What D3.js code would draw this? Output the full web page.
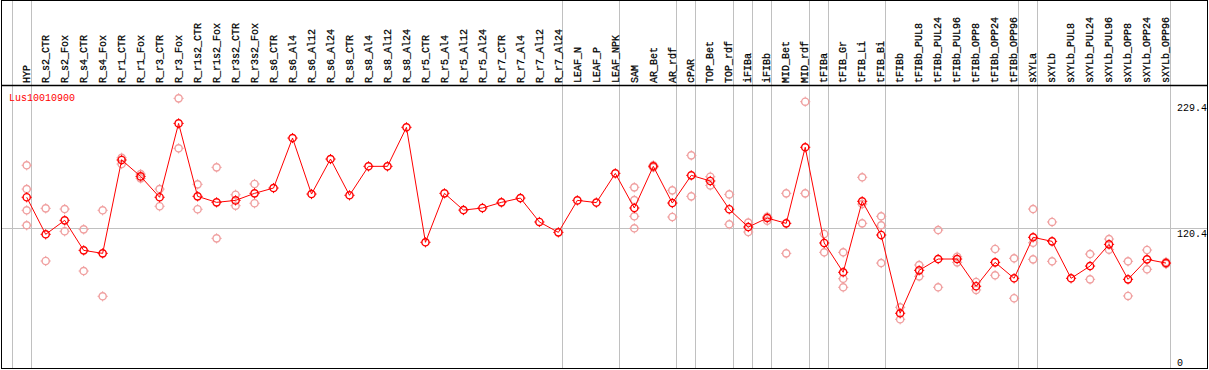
<!DOCTYPE html>
<html>
<head>
<meta charset="utf-8">
<script src="https://cdn.jsdelivr.net/npm/d3@7"></script>
<style>
  html, body { margin: 0; padding: 0; background: #fff; }
  svg { display: block; }
  text { font-family: "Liberation Mono", "DejaVu Sans Mono", monospace; font-size: 10px; }
</style>
</head>
<body>
<svg id="chart" width="1209" height="370"></svg>
<script>
// 列ラベル
const samples = [
    "HYP",
    "R_s2_CTR", "R_s2_Fox", "R_s4_CTR", "R_s4_Fox",
    "R_r1_CTR", "R_r1_Fox", "R_r3_CTR", "R_r3_Fox",
    "R_r1s2_CTR", "R_r1s2_Fox", "R_r3s2_CTR", "R_r3s2_Fox",
    "R_s6_CTR", "R_s6_Al4", "R_s6_Al12", "R_s6_Al24",
    "R_s8_CTR", "R_s8_Al4", "R_s8_Al12", "R_s8_Al24",
    "R_r5_CTR", "R_r5_Al4", "R_r5_Al12", "R_r5_Al24",
    "R_r7_CTR", "R_r7_Al4", "R_r7_Al12", "R_r7_Al24",
    "LEAF_N", "LEAF_P", "LEAF_NPK",
    "SAM", "AR_Bet", "AR_rdf",
    "cPAR",
    "TOP_Bet", "TOP_rdf",
    "iFIBa", "iFIBb",
    "MID_Bet", "MID_rdf",
    "tFIBa",
    "tFIB_Gr", "tFIB_Li", "tFIB_Bi",
    "tFIBb", "tFIBb_PUL8", "tFIBb_PUL24", "tFIBb_PUL96", "tFIBb_OPP8", "tFIBb_OPP24", "tFIBb_OPP96",
    "sXYLa",
    "sXYLb", "sXYLb_PUL8", "sXYLb_PUL24", "sXYLb_PUL96", "sXYLb_OPP8", "sXYLb_OPP24", "sXYLb_OPP96"
];

// 平均値 (赤い線)
const means = [
    147.3,
    115.2, 127.3, 101.3, 98.7,
    179.6, 165.4, 147.3, 211.3,
    148.1, 142.9, 144.6, 150.7,
    155.3, 198.6, 150.1, 180.4,
    149.0, 174.1, 174.1, 207.9,
    108.3, 150.7, 136.2, 138.0,
    142.9, 146.6, 125.9, 116.9,
    144.6, 142.7, 168.0,
    138.0, 174.1, 142.3,
    166.3,
    161.4, 136.9,
    121.5, 129.3,
    124.7, 190.6,
    107.7,
    82.3, 143.8, 114.6,
    46.8, 84.0, 93.8, 93.8, 70.2, 90.9, 77.1,
    112.6,
    109.1, 77.1, 87.7, 106.5, 76.2, 93.5, 90.3
];

// 反復データ (薄い丸)
const replicates = [
    [175.0, 154.4, 136.0, 123.0],
    [137.7, 92.1], [137.1, 117.8], [119.5, 83.4], [136.0, 61.5],
    [181.5, 176.1], [167.4, 163.7], [154.4, 139.5], [233.0, 189.7],
    [158.5, 136.9], [173.2, 111.7], [149.5, 140.0], [158.8, 142.1],
    [], [], [], [],
    [], [], [], [],
    [], [], [], [],
    [], [], [], [],
    [], [], [],
    [155.9, 144.9, 130.8, 120.4], [175.0, 173.2], [153.3, 130.2],
    [183.6, 148.1],
    [165.1, 157.6], [149.8, 123.9],
    [125.3, 117.2], [130.4, 127.0],
    [150.7, 98.7], [230.1, 150.7],
    [115.5, 99.6],
    [99.6, 76.7, 69.3], [164.6, 141.4, 124.7], [130.8, 123.0, 90.3],
    [52.0, 41.6], [88.6, 78.8], [118.9, 69.3], [95.8, 90.9], [73.9, 67.0], [102.5, 79.7], [94.4, 59.8],
    [137.1, 107.9, 93.5],
    [125.9, 91.8], [], [98.1, 76.2], [111.1, 101.9], [91.8, 61.8], [101.6, 84.9], [91.2, 89.5]
];

// グループ区切り (この列の右に線を引く、-1 は先頭の左)
const groupEnds = [-1, 0, 28, 31, 34, 35, 37, 38, 39, 41, 42, 45, 52, 53, 60];

// 右側の目盛り
const yTicks = [229.4, 120.4, 0];
const gridValues = [120.4];

const geneName = "Lus10010900";

const headerY = 85.5, bottomY = 368.5, leftX = 1.5, rightX = 1207.5;

const svg = d3.select('#chart');

const x = d3.scalePoint()
    .domain(d3.range(samples.length))
    .range([26.7, 1166]);
const step = x.step();

const y = d3.scaleLinear()
    .domain([0, 229.4])
    .range([367.3, 102.5]);

const colX = i => i < 0 ? x(0) - step : x(i);

// 縦のグリッド線 (グループ区切り)
svg.append('g')
    .selectAll('line')
    .data(groupEnds)
    .join('line')
    .attr('x1', d => Math.round(colX(d) + 4) + 0.5)
    .attr('x2', d => Math.round(colX(d) + 4) + 0.5)
    .attr('y1', 0)
    .attr('y2', bottomY)
    .attr('stroke', '#c0c0c0')
    .attr('stroke-width', 1);

// 横のグリッド線
svg.append('g')
    .selectAll('line')
    .data(gridValues)
    .join('line')
    .attr('x1', leftX)
    .attr('x2', rightX)
    .attr('y1', d => Math.round(y(d)) + 0.5)
    .attr('y2', d => Math.round(y(d)) + 0.5)
    .attr('stroke', '#c0c0c0')
    .attr('stroke-width', 1);

// 枠線
svg.append('rect')
    .attr('x', leftX).attr('y', 0.5)
    .attr('width', rightX - leftX).attr('height', bottomY - 0.5)
    .attr('fill', 'none').attr('stroke', '#000').attr('stroke-width', 1);
svg.append('line')
    .attr('x1', leftX).attr('x2', rightX)
    .attr('y1', headerY).attr('y2', headerY)
    .attr('stroke', '#000').attr('stroke-width', 1.5);

// 列ラベル (縦書き)
svg.append('g')
    .selectAll('text')
    .data(samples)
    .join('text')
    .attr('transform', (d, i) => `translate(${x(i)},83) rotate(-90)`)
    .attr('dy', '0.32em')
    .attr('fill', '#000')
    .attr('stroke', '#000')
    .attr('stroke-width', 0.25)
    .text(d => d);

// 右の目盛り
svg.append('g')
    .selectAll('text')
    .data(yTicks)
    .join('text')
    .attr('x', 1177)
    .attr('y', d => d === 0 ? y(d) - 1 : y(d) + 8.5)
    .attr('fill', '#000')
    .text(d => d);

// 遺伝子名
svg.append('text')
    .attr('x', 9)
    .attr('y', 101)
    .attr('fill', '#ff0000')
    .text(geneName);

// 丸印 (ビットマップ風の小さな突起付き)
function marker(sel, color, r) {
    sel.append('circle')
        .attr('r', r)
        .attr('fill', 'none')
        .attr('stroke', color)
        .attr('stroke-width', 1.4);
    sel.append('path')
        .attr('d', `M0,${-r - 1.5}V${-r}M0,${r}V${r + 1.5}M${-r - 1.5},0H${-r}M${r},0H${r + 1.5}`)
        .attr('stroke', color)
        .attr('stroke-width', 1);
}

// 反復データの点
const repData = [];
replicates.forEach((arr, i) => arr.forEach(v => repData.push({ i, v })));
svg.append('g')
    .selectAll('g')
    .data(repData)
    .join('g')
    .attr('transform', d => `translate(${x(d.i)},${y(d.v)})`)
    .call(marker, '#f0a0a0', 3.6);

// 平均値の線
const line = d3.line()
    .x((d, i) => x(i))
    .y(d => y(d));
svg.append('path')
    .datum(means)
    .attr('d', line)
    .attr('fill', 'none')
    .attr('stroke', '#ff0000')
    .attr('stroke-width', 1);

// 平均値の点
svg.append('g')
    .selectAll('g')
    .data(means)
    .join('g')
    .attr('transform', (d, i) => `translate(${x(i)},${y(d)})`)
    .call(marker, '#ff0000', 3.6);
</script>
</body>
</html>
